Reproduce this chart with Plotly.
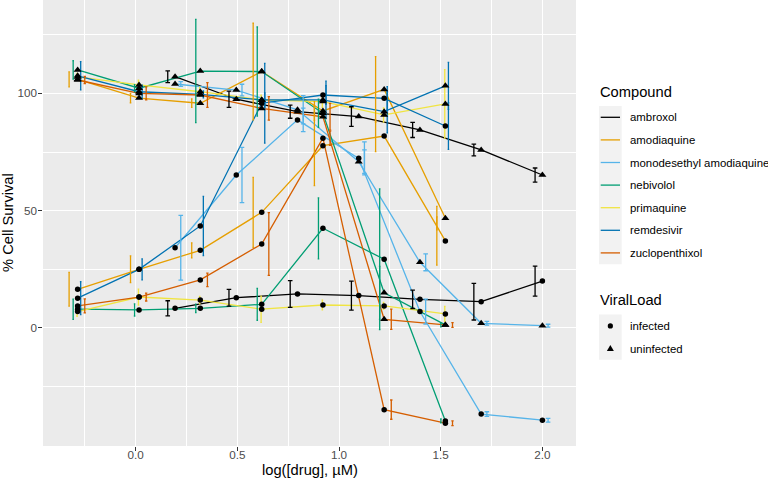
import plotly.graph_objects as go

# ---------------- data ----------------
DOSES_STD = [-0.285, 0.017, 0.318, 0.62, 0.921, 1.222, 1.523]
DOSES_AMB = [0.194, 0.495, 0.796, 1.097, 1.398, 1.699, 2.0]

COMPOUNDS = ["ambroxol", "amodiaquine", "monodesethyl amodiaquine",
             "nebivolol", "primaquine", "remdesivir", "zuclopenthixol"]
VIRAL_LOADS = ["infected", "uninfected"]

AMBROXOL_INF = [8.4, 12.9, 14.5, 13.8, 12.2, 11.2, 20.0]
AMBROXOL_INF_SD = [3.2, 3.6, 5.7, 6.2, 3.9, 7.8, 6.4]
AMBROXOL_UNINF = [107.1, 97.5, 92.2, 90.1, 84.4, 75.9, 65.2]
AMBROXOL_UNINF_SD = [2.5, 3.5, 2.8, 4.2, 3.2, 2.5, 3.0]

AMODIAQUINE_INF = [16.5, 25.0, 33.1, 49.3, 77.7, 81.8, 37.1]
AMODIAQUINE_INF_SD = [7.2, 5.7, 3.2, 14.9, 17.0, 6.6, 10.3]
AMODIAQUINE_UNINF = [106.0, 98.0, 95.8, 109.3, 92.5, 101.7, 46.8]
AMODIAQUINE_UNINF_SD = [3.2, 2.0, 1.8, 20.6, 4.0, 14.0, 5.0]

MDA_INF = [34.2, 65.2, 88.7, 72.3, 7.0, -36.7, -39.3]
MDA_INF_SD = [13.8, 11.8, 5.0, 7.0, 5.3, 1.0, 0.8]
MDA_UNINF = [104.0, 101.4, 93.0, 70.9, 28.0, 2.0, 1.0]
MDA_UNINF_SD = [1.0, 2.5, 6.0, 5.0, 3.6, 0.8, 0.6]

NEBIVOLOL_INF = [8.0, 7.7, 8.4, 10.1, 42.5, 29.3, -39.6]
NEBIVOLOL_INF_SD = [4.3, 2.6, 1.8, 6.8, 13.0, 30.0, 0.8]
NEBIVOLOL_UNINF = [110.0, 102.2, 109.5, 109.3, 91.5, 15.0, 1.3]
NEBIVOLOL_UNINF_SD = [3.9, 1.5, 22.0, 19.0, 6.0, 11.3, 0.8]

PRIMAQUINE_INF = [7.0, 13.2, 11.9, 8.0, 9.8, 9.4, 6.0]
PRIMAQUINE_INF_SD = [2.0, 3.4, 1.6, 5.6, 2.1, 1.5, 3.2]
PRIMAQUINE_UNINF = [107.0, 103.6, 100.7, 97.2, 96.5, 90.8, 95.5]
PRIMAQUINE_UNINF_SD = [1.5, 2.0, 2.0, 2.0, 2.5, 3.0, 14.6]

REMDESIVIR_INF = [12.7, 25.0, 43.5, 95.8, 99.3, 97.9, 86.1]
REMDESIVIR_INF_SD = [7.0, 4.5, 12.6, 17.0, 4.0, 5.0, 10.0]
REMDESIVIR_UNINF = [107.5, 100.7, 99.6, 97.2, 97.2, 92.2, 103.2]
REMDESIVIR_UNINF_SD = [6.0, 2.8, 1.5, 3.0, 8.0, 9.0, 10.0]

ZUCLO_INF = [9.4, 13.2, 20.5, 35.8, 80.9, -34.8, -40.6]
ZUCLO_INF_SD = [3.0, 1.7, 2.9, 13.4, 3.0, 4.1, 1.0]
ZUCLO_UNINF = [105.7, 100.0, 99.3, 93.6, 90.0, 3.7, 1.3]
ZUCLO_UNINF_SD = [1.5, 2.8, 5.3, 5.0, 5.7, 4.3, 1.0]

X_TICKS = [0.0, 0.5, 1.0, 1.5, 2.0]
Y_TICKS = [0, 50, 100]

SERIES = {
    "ambroxol": (DOSES_AMB, AMBROXOL_INF, AMBROXOL_INF_SD, AMBROXOL_UNINF, AMBROXOL_UNINF_SD),
    "amodiaquine": (DOSES_STD, AMODIAQUINE_INF, AMODIAQUINE_INF_SD, AMODIAQUINE_UNINF, AMODIAQUINE_UNINF_SD),
    "monodesethyl amodiaquine": (DOSES_AMB, MDA_INF, MDA_INF_SD, MDA_UNINF, MDA_UNINF_SD),
    "nebivolol": (DOSES_STD, NEBIVOLOL_INF, NEBIVOLOL_INF_SD, NEBIVOLOL_UNINF, NEBIVOLOL_UNINF_SD),
    "primaquine": (DOSES_STD, PRIMAQUINE_INF, PRIMAQUINE_INF_SD, PRIMAQUINE_UNINF, PRIMAQUINE_UNINF_SD),
    "remdesivir": (DOSES_STD, REMDESIVIR_INF, REMDESIVIR_INF_SD, REMDESIVIR_UNINF, REMDESIVIR_UNINF_SD),
    "zuclopenthixol": (DOSES_STD, ZUCLO_INF, ZUCLO_INF_SD, ZUCLO_UNINF, ZUCLO_UNINF_SD),
}

# ---------------- style ----------------
COLORS = {
    "ambroxol": "#000000",
    "amodiaquine": "#E69F00",
    "monodesethyl amodiaquine": "#56B4E9",
    "nebivolol": "#009E73",
    "primaquine": "#F0E442",
    "remdesivir": "#0072B2",
    "zuclopenthixol": "#D55E00",
}
DODGE = {
    "ambroxol": -0.036, "amodiaquine": -0.042, "monodesethyl amodiaquine": 0.028,
    "nebivolol": -0.022, "primaquine": -0.003, "remdesivir": 0.015, "zuclopenthixol": 0.035,
}
CAP = {
    "ambroxol": 2.3, "amodiaquine": 0.8, "monodesethyl amodiaquine": 2.3,
    "nebivolol": 0.8, "primaquine": 0.8, "remdesivir": 0.8, "zuclopenthixol": 1.2,
}
SYMBOLS = {"infected": "circle", "uninfected": "triangle-up"}
SIZES = {"infected": 5.5, "uninfected": 7}
FONT = "Liberation Sans, Arial, sans-serif"
LW = 1.3

W, H = 768, 479
ML, MR, MT, MB = 43, 192, 0, 33
PW, PH = W - ML - MR, H - MT - MB

fig = go.Figure()


def vals(comp, vl):
    d, inf, inf_sd, un, un_sd = SERIES[comp]
    return (d, inf, inf_sd) if vl == "infected" else (d, un, un_sd)


# lines
for comp in COMPOUNDS:
    for vl in VIRAL_LOADS:
        d, y, sd = vals(comp, vl)
        fig.add_trace(go.Scatter(x=d, y=y, mode="lines", showlegend=False,
                                 line=dict(color=COLORS[comp], width=LW),
                                 hoverinfo="skip"))
# error bars (dodged)
for comp in COMPOUNDS:
    for vl in VIRAL_LOADS:
        d, y, sd = vals(comp, vl)
        xd = [v + DODGE[comp] for v in d]
        fig.add_trace(go.Scatter(x=xd, y=y, mode="markers", showlegend=False,
                                 marker=dict(size=1, opacity=0),
                                 error_y=dict(type="data", array=sd, visible=True,
                                              color=COLORS[comp], thickness=LW,
                                              width=CAP[comp]),
                                 hoverinfo="skip"))
# points
for comp in COMPOUNDS:
    for vl in VIRAL_LOADS:
        d, y, sd = vals(comp, vl)
        fig.add_trace(go.Scatter(x=d, y=y, mode="markers", showlegend=False,
                                 marker=dict(symbol=SYMBOLS[vl], size=SIZES[vl],
                                             color="black", line=dict(width=0)),
                                 name=f"{comp} {vl}"))


# ---------------- manual ggplot-like legend & axis titles ----------------
def xp(px):
    return (px - ML) / PW


def yp(py):
    return (H - MB - py) / PH


shapes = []
annotations = []
KEY_X0, KEY_X1 = 599, 621.7
KEY_H = 22.6
LABEL_X = 627.5
LABEL_SIZE = 11.4

annotations.append(dict(text="Compound", x=xp(KEY_X0 - 1), y=yp(92), xref="paper", yref="paper",
                        xanchor="left", yanchor="middle", showarrow=False,
                        font=dict(family=FONT, size=14.7, color="black")))
top = 106
shapes.append(dict(type="rect", xref="paper", yref="paper", x0=xp(KEY_X0), x1=xp(KEY_X1),
                   y0=yp(top), y1=yp(top + KEY_H * len(COMPOUNDS)),
                   fillcolor="#F2F2F2", line=dict(width=0), layer="below"))
for i, comp in enumerate(COMPOUNDS):
    cy = top + KEY_H * (i + 0.5)
    shapes.append(dict(type="line", xref="paper", yref="paper", x0=xp(KEY_X0 + 1.7), x1=xp(KEY_X1 - 1.7),
                       y0=yp(cy), y1=yp(cy), line=dict(color=COLORS[comp], width=LW)))
    annotations.append(dict(text=comp, x=xp(LABEL_X), y=yp(cy), xref="paper", yref="paper",
                            xanchor="left", yanchor="middle", showarrow=False,
                            font=dict(family=FONT, size=LABEL_SIZE, color="black")))

annotations.append(dict(text="ViralLoad", x=xp(KEY_X0 - 1), y=yp(300), xref="paper", yref="paper",
                        xanchor="left", yanchor="middle", showarrow=False,
                        font=dict(family=FONT, size=14.7, color="black")))
top2 = 314.6
shapes.append(dict(type="rect", xref="paper", yref="paper", x0=xp(KEY_X0), x1=xp(KEY_X1),
                   y0=yp(top2), y1=yp(top2 + KEY_H * 2),
                   fillcolor="#F2F2F2", line=dict(width=0), layer="below"))
kx = (KEY_X0 + KEY_X1) / 2
for i, vl in enumerate(VIRAL_LOADS):
    cy = top2 + KEY_H * (i + 0.5)
    if vl == "infected":
        shapes.append(dict(type="circle", xref="paper", yref="paper",
                           xsizemode="pixel", ysizemode="pixel",
                           xanchor=xp(kx), yanchor=yp(cy),
                           x0=-2.6, x1=2.6, y0=-2.6, y1=2.6,
                           fillcolor="black", line=dict(width=0)))
    else:
        shapes.append(dict(type="path", xref="paper", yref="paper",
                           xsizemode="pixel", ysizemode="pixel",
                           xanchor=xp(kx), yanchor=yp(cy),
                           path="M -3.5 -2.6 L 3.5 -2.6 L 0 3.4 Z",
                           fillcolor="black", line=dict(width=0)))
    annotations.append(dict(text=vl, x=xp(LABEL_X), y=yp(cy), xref="paper", yref="paper",
                            xanchor="left", yanchor="middle", showarrow=False,
                            font=dict(family=FONT, size=LABEL_SIZE, color="black")))

# axis titles
annotations.append(dict(text="log([drug], µM)", x=0.5, y=yp(470), xref="paper", yref="paper",
                        xanchor="center", yanchor="middle", showarrow=False,
                        font=dict(family=FONT, size=14.7, color="black")))
annotations.append(dict(text="% Cell Survival", x=xp(8), y=0.5, xref="paper", yref="paper",
                        xanchor="center", yanchor="middle", showarrow=False, textangle=-90,
                        font=dict(family=FONT, size=14.7, color="black")))

fig.update_layout(
    width=W, height=H,
    margin=dict(l=ML, r=MR, t=MT, b=MB, pad=0, autoexpand=False),
    paper_bgcolor="white", plot_bgcolor="#EBEBEB",
    font=dict(family=FONT, color="black"),
    shapes=shapes, annotations=annotations,
    showlegend=False,
)
fig.update_xaxes(
    range=[-0.4553, 2.1652], tickvals=X_TICKS, ticktext=[f"{v:.1f}" for v in X_TICKS],
    showgrid=True, gridcolor="white", gridwidth=1.4, zeroline=False, automargin=False,
    minor=dict(tickvals=[-0.25, 0.25, 0.75, 1.25, 1.75], showgrid=True, gridcolor="white",
               gridwidth=0.7, ticks=""),
    ticks="outside", ticklen=3.7, tickwidth=1.1, tickcolor="#333333",
    ticklabelstandoff=-6,
    tickfont=dict(family=FONT, size=11.7, color="#4D4D4D"),
    showline=False,
)
fig.update_yaxes(
    range=[-50.3, 139.8], tickvals=Y_TICKS,
    showgrid=True, gridcolor="white", gridwidth=1.4, zeroline=False, automargin=False,
    minor=dict(tickvals=[-25, 25, 75, 125], showgrid=True, gridcolor="white",
               gridwidth=0.7, ticks=""),
    ticks="outside", ticklen=3.7, tickwidth=1.1, tickcolor="#333333",
    ticklabelstandoff=-1,
    tickfont=dict(family=FONT, size=11.7, color="#4D4D4D"),
    showline=False,
)

fig.write_html("out.html", config={"displayModeBar": False},
               post_script="document.body.style.margin='0';document.body.style.overflow='hidden';")
